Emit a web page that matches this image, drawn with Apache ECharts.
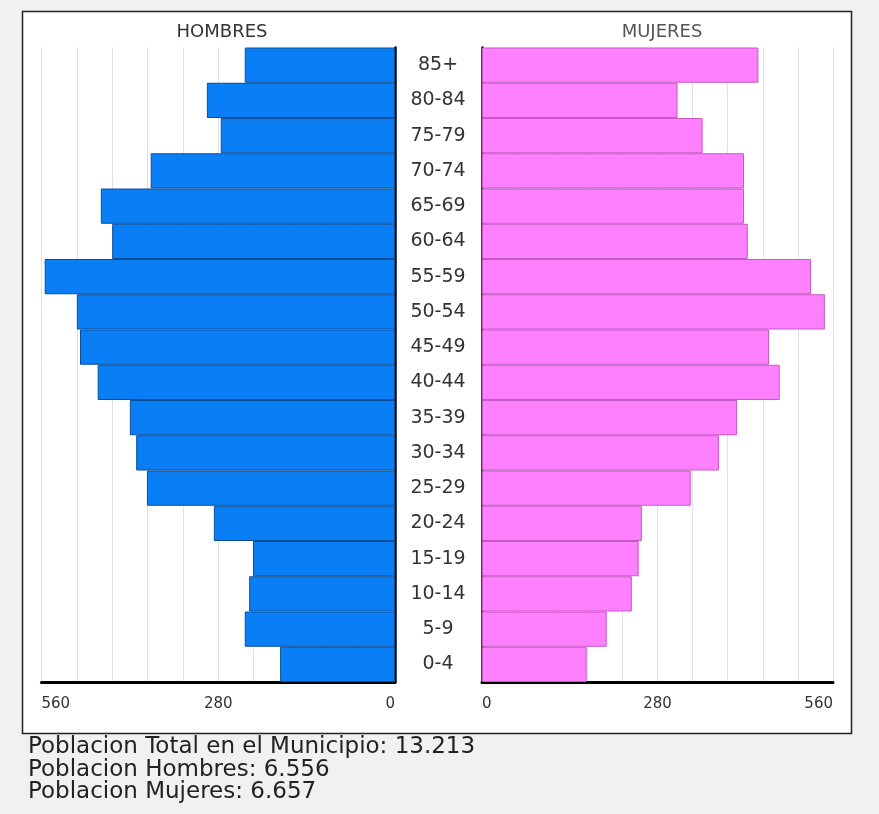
<!DOCTYPE html>
<html>
<head>
<meta charset="utf-8">
<script src="https://cdn.jsdelivr.net/npm/echarts@6/dist/echarts.min.js"></script>
<style>
  html, body { margin: 0; padding: 0; background: #f1f1f1; }
  #chart { width: 879px; height: 814px; }
</style>
</head>
<body>
<div id="chart"></div>
<script>
const ageGroups = ['0-4','5-9','10-14','15-19','20-24','25-29','30-34','35-39','40-44','45-49','50-54','55-59','60-64','65-69','70-74','75-79','80-84','85+'];
const hombres = [182, 238, 231, 225, 287, 393, 410, 420, 471, 499, 504, 555, 448, 466, 387, 276, 298, 238];
const mujeres = [167, 199, 239, 250, 255, 333, 378, 407, 475, 458, 547, 525, 424, 418, 418, 352, 312, 441];
const axisTicks = [0, 280, 560];
const summaryLines = [
  'Poblacion Total en el Municipio: 13.213',
  'Poblacion Hombres: 6.556',
  'Poblacion Mujeres: 6.657'
];

const chart = echarts.init(document.getElementById('chart'), null, { renderer: 'canvas' });
const labelFmt = v => axisTicks.indexOf(v) >= 0 ? String(v) : '';
const baseFont = 'DejaVu Sans, Verdana, sans-serif';

const xAxisCommon = {
  type: 'value', min: 0, max: 560, interval: 56,
  axisLine: { show: true, onZero: false, lineStyle: { color: '#000', width: 3 } },
  axisTick: { show: false },
  splitLine: { show: true, lineStyle: { color: '#e2e2e2', width: 1 } },
  axisLabel: { formatter: labelFmt, color: '#333', fontSize: 15, fontFamily: baseFont, margin: 15, showMinLabel: true, showMaxLabel: true }
};

chart.setOption({
  animation: false,
  backgroundColor: '#f1f1f1',
  graphic: [
    { type: 'rect', z: -10, shape: { x: 22.5, y: 11.5, width: 829, height: 722 },
      style: { fill: '#ffffff', stroke: '#222', lineWidth: 1.5 } }
  ].concat(summaryLines.map((t, i) => ({
    type: 'text', x: 28, y: 747.5 + i * 22.3,
    style: { text: t, font: '23px "DejaVu Sans", Verdana, sans-serif', fill: '#222', verticalAlign: 'middle' }
  }))),
  title: [
    { text: 'HOMBRES', left: 217, top: 18, textAlign: 'center', textStyle: { fontSize: 18, fontWeight: 'normal', color: '#333', fontFamily: baseFont } },
    { text: 'MUJERES', left: 657, top: 18, textAlign: 'center', textStyle: { fontSize: 18, fontWeight: 'normal', color: '#555', fontFamily: baseFont } }
  ],
  grid: [
    { left: 41.5, width: 353.5, top: 47.5, height: 634.5 },
    { left: 482, width: 351, top: 47.5, height: 634.5 }
  ],
  xAxis: [
    Object.assign({}, xAxisCommon, { gridIndex: 0, inverse: true,
      axisLabel: Object.assign({}, xAxisCommon.axisLabel, { alignMinLabel: 'right', alignMaxLabel: 'left' }) }),
    Object.assign({}, xAxisCommon, { gridIndex: 1,
      axisLabel: Object.assign({}, xAxisCommon.axisLabel, { alignMinLabel: 'left', alignMaxLabel: 'right' }) })
  ],
  yAxis: [
    { type: 'category', gridIndex: 0, data: ageGroups, position: 'right',
      axisLine: { show: true, lineStyle: { color: '#000820', width: 2.5 } },
      axisTick: { show: false }, axisLabel: { show: false }, splitLine: { show: false } },
    { type: 'category', gridIndex: 1, data: ageGroups, position: 'left',
      axisLine: { show: true, lineStyle: { color: '#100010', width: 2.5 } },
      axisTick: { show: false },
      axisLabel: { show: true, align: 'center', margin: 44, color: '#333', fontSize: 19, fontFamily: baseFont },
      splitLine: { show: false } }
  ],
  series: [
    { type: 'bar', name: 'Hombres', xAxisIndex: 0, yAxisIndex: 0, data: hombres,
      barCategoryGap: '0%', z: 3,
      itemStyle: { color: '#0a7ff5', borderColor: '#0a4e9a', borderWidth: 1 } },
    { type: 'bar', name: 'Mujeres', xAxisIndex: 1, yAxisIndex: 1, data: mujeres,
      barCategoryGap: '0%', z: 3,
      itemStyle: { color: '#ff80ff', borderColor: '#c458c4', borderWidth: 1 } }
  ]
});
</script>
</body>
</html>
